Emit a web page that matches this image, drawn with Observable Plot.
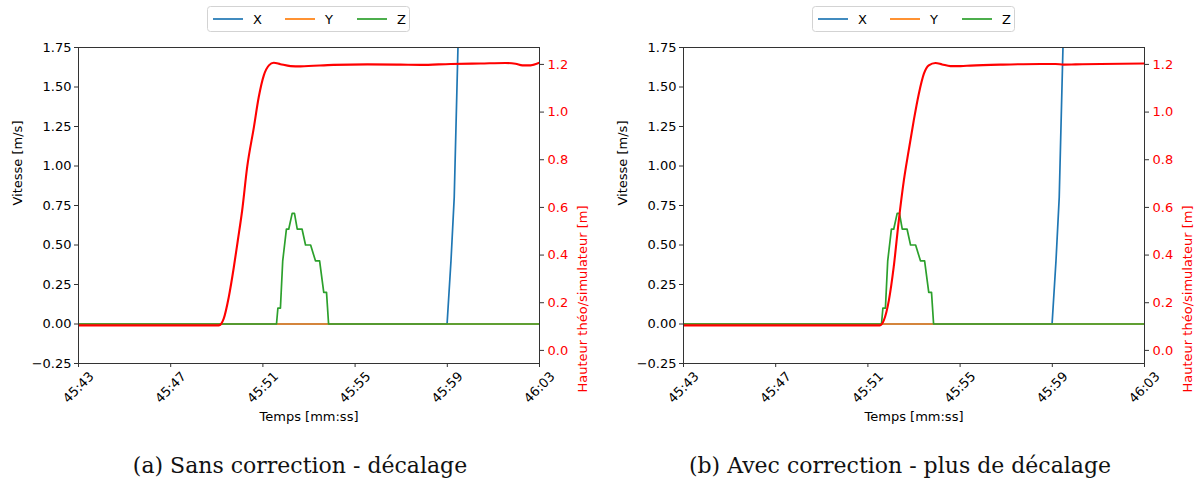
<!DOCTYPE html>
<html>
<head>
<meta charset="utf-8">
<script src="https://cdn.jsdelivr.net/npm/d3@7"></script>
<script src="https://cdn.jsdelivr.net/npm/@observablehq/plot@0.6"></script>
<style>
  body { margin: 0; background: #fff; font-family: "DejaVu Sans", sans-serif; }
  #wrap { position: relative; width: 1200px; height: 488px; overflow: hidden; background: #fff; }
  .panel { position: absolute; top: 36px; }
  .panel svg text { font-size: 13px !important; font-family: "DejaVu Sans", sans-serif !important; }
  .caption { position: absolute; top: 453px; width: 600px; text-align: center;
             font-family: "DejaVu Serif", serif; font-size: 22px; color: #111; }
</style>
</head>
<body>
<div id="wrap"></div>
<script>
// ---------- data ----------
const timeTicks = [43, 47, 51, 55, 59, 63];               // seconds after 45:00
const timeTickLabels = ["45:43", "45:47", "45:51", "45:55", "45:59", "46:03"];
const velocityTicks = [-0.25, 0, 0.25, 0.5, 0.75, 1, 1.25, 1.5, 1.75];
const heightTicks = [0, 0.2, 0.4, 0.6, 0.8, 1.0, 1.2];
const velocityDomain = [-0.25, 1.75];
const heightDomain = [-0.055, 1.271];
const timeDomain = [43, 63];

const seriesNames = ["X", "Y", "Z"];
const seriesColors = ["#1f77b4", "#ff7f0e", "#2ca02c"];
const heightColor = "#ff0000";

// velocity series (identical in both panels)
const xTime = [43, 58.99, 59.16, 59.30, 59.48];
const xVel  = [0, 0, 0.40, 0.80, 1.85];
const yTime = [43, 63];
const yVel  = [0, 0];
const zTime = [43, 51.59, 51.65, 51.76, 51.86, 52.02, 52.12, 52.27, 52.37, 52.49, 52.70, 52.85, 53.07, 53.28, 53.46, 53.64, 53.76, 53.85, 63];
const zVel  = [0, 0, 0.1, 0.1, 0.4, 0.6, 0.6, 0.7, 0.7, 0.6, 0.6, 0.5, 0.5, 0.4, 0.4, 0.2, 0.2, 0, 0];

// height series, panel (a): without correction
const heightTimeA = [43, 49.09, 49.30, 49.52, 49.74, 49.91, 50.10, 50.32, 50.61, 50.82, 51.04, 51.26, 51.47, 51.76, 52.20, 52.63, 54.06, 55.54, 56.97, 57.84, 59.14, 60.44, 61.52, 61.96, 62.26, 62.61, 63.0];
const heightA     = [0.105, 0.105, 0.133, 0.224, 0.35, 0.46, 0.587, 0.771, 0.937, 1.063, 1.154, 1.196, 1.207, 1.201, 1.193, 1.192, 1.198, 1.200, 1.199, 1.198, 1.202, 1.204, 1.206, 1.203, 1.196, 1.196, 1.207];
// height series, panel (b): with correction
const heightTimeB = [43, 51.52, 51.69, 51.91, 52.12, 52.34, 52.56, 52.77, 52.99, 53.21, 53.43, 53.64, 53.93, 54.22, 54.58, 55.02, 55.45, 56.75, 58.49, 59.14, 59.49, 60.01, 61.09, 63.0];
const heightB     = [0.105, 0.105, 0.126, 0.21, 0.35, 0.545, 0.713, 0.839, 0.965, 1.077, 1.161, 1.196, 1.206, 1.200, 1.193, 1.193, 1.195, 1.199, 1.202, 1.202, 1.199, 1.200, 1.202, 1.204];

const captions = ["(a) Sans correction - décalage", "(b) Avec correction - plus de décalage"];

// ---------- helpers ----------
const toVel = h => velocityDomain[0] + (h - heightDomain[0]) / (heightDomain[1] - heightDomain[0]) * (velocityDomain[1] - velocityDomain[0]);
const fromVel = v => heightDomain[0] + (v - velocityDomain[0]) / (velocityDomain[1] - velocityDomain[0]) * (heightDomain[1] - heightDomain[0]);
const zip = (ts, vs) => ts.map((t, i) => ({t, v: vs[i]}));
const fmtVel = d => (d < 0 ? "\u2212" : "") + Math.abs(d).toFixed(2);

const series = [zip(xTime, xVel), zip(yTime, yVel), zip(zTime, zVel)];
const FS = 13;

function makePanel(hTimes, hVals, width, ml, mr) {
  const hData = zip(hTimes, hVals).map(d => ({t: d.t, v: toVel(d.v)}));
  return Plot.plot({
    width, height: 400,
    marginTop: 11, marginBottom: 73, marginLeft: ml, marginRight: mr,
    style: {fontFamily: "DejaVu Sans, sans-serif", fontSize: "13px", background: "white", color: "#000", overflow: "visible"},
    x: {domain: timeDomain, axis: null},
    y: {domain: velocityDomain, axis: null},
    marks: [
      ...series.map((s, i) => Plot.line(s, {x: "t", y: "v", stroke: seriesColors[i], strokeWidth: 1.7, clip: true})),
      Plot.line(hData, {x: "t", y: "v", stroke: heightColor, strokeWidth: 2.1, curve: "monotone-x", clip: true}),
      Plot.frame({stroke: "#333", strokeWidth: 1}),
      Plot.axisY(velocityTicks, {anchor: "left", tickSize: 4, tickPadding: 3, tickFormat: fmtVel, label: null, stroke: "#333", fill: "#000", fontSize: FS}),
      Plot.axisY(heightTicks.map(toVel), {anchor: "right", tickSize: 4, tickPadding: 4, tickFormat: v => fromVel(v).toFixed(1), label: null, stroke: "#333", fill: heightColor, fontSize: FS}),
      Plot.axisX(timeTicks, {anchor: "bottom", tickSize: 4, tickFormat: () => "", label: null, stroke: "#333"}),
      Plot.text(timeTickLabels, {x: (d, i) => timeTicks[i], text: d => d, frameAnchor: "bottom", dy: 24, rotate: -45, textAnchor: "middle", lineAnchor: "middle", fill: "#000", fontSize: FS}),
      Plot.text(["Temps [mm:ss]"], {text: d => d, frameAnchor: "bottom", dy: 57, fill: "#000", fontSize: FS}),
      Plot.text(["Vitesse [m/s]"], {text: d => d, frameAnchor: "left", dx: -61, rotate: -90, fill: "#000", fontSize: FS}),
      Plot.text(["Hauteur théo/simulateur [m]"], {text: d => d, frameAnchor: "right", dx: 43, rotate: -90, fill: heightColor, fontSize: FS})
    ]
  });
}

function makeLegend(left) {
  const w = 202, h = 25;
  const svg = d3.create("svg").attr("width", w + 2).attr("height", h + 2)
    .style("position", "absolute").style("left", left + "px").style("top", "6px");
  svg.append("rect").attr("x", 0.5).attr("y", 0.5).attr("width", w).attr("height", h)
    .attr("rx", 3).attr("fill", "white").attr("stroke", "#d3d3d3");
  seriesNames.forEach((name, i) => {
    const x0 = 6 + 72 * i;
    svg.append("line").attr("x1", x0).attr("x2", x0 + 30).attr("y1", 13).attr("y2", 13)
      .attr("stroke", seriesColors[i]).attr("stroke-width", 1.7);
    svg.append("text").attr("x", x0 + 40).attr("y", 13).attr("dy", "0.35em")
      .attr("font-family", "DejaVu Sans, sans-serif").attr("font-size", FS).attr("fill", "#000").text(name);
  });
  return svg.node();
}

const wrap = document.getElementById("wrap");
const panels = [
  {left: 0, width: 600, ml: 78, mr: 61, ht: heightTimeA, hv: heightA, legendLeft: 207},
  {left: 600, width: 600, ml: 83, mr: 56, ht: heightTimeB, hv: heightB, legendLeft: 812}
];
panels.forEach((p, i) => {
  const div = document.createElement("div");
  div.className = "panel";
  div.style.left = p.left + "px";
  div.appendChild(makePanel(p.ht, p.hv, p.width, p.ml, p.mr));
  wrap.appendChild(div);
  wrap.appendChild(makeLegend(p.legendLeft));
  const cap = document.createElement("div");
  cap.className = "caption";
  cap.style.left = p.left + "px";
  cap.textContent = captions[i];
  wrap.appendChild(cap);
});
</script>
</body>
</html>
